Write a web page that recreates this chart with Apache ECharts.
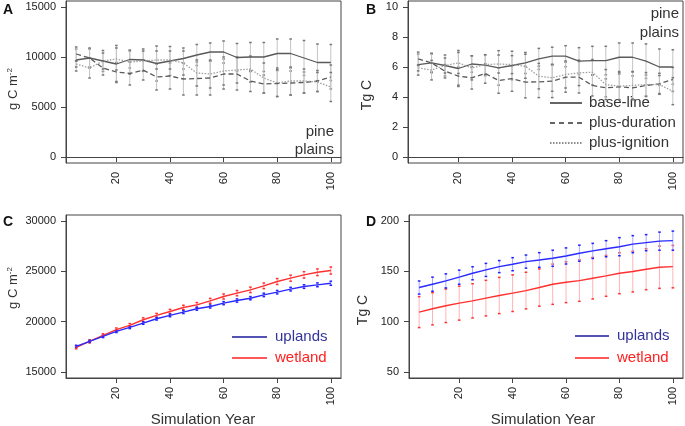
<!DOCTYPE html>
<html>
<head>
<meta charset="utf-8">
<script src="https://cdn.jsdelivr.net/npm/echarts@6/dist/echarts.min.js"></script>
<style>
  body { margin: 0; background: #fff; }
  #chart { width: 685px; height: 426px; }
</style>
</head>
<body>
<div id="chart"></div>
<script>
// simulation years (x for every panel)
const years = [5, 10, 15, 20, 25, 30, 35, 40, 45, 50, 55, 60, 65, 70, 75, 80, 85, 90, 95, 100];

// A: pine plains, g C m-2
const aBase = [9700, 9900, 9600, 9300, 9750, 9700, 9350, 9600, 9850, 10200, 10500, 10500, 9950, 10000, 10000, 10350, 10350, 9900, 9450, 9450];
const aBaseErr = [1100, 900, 1050, 1850, 850, 1100, 1750, 1450, 1050, 1050, 900, 1100, 1400, 1450, 1450, 1450, 1450, 1750, 1850, 1800];
const aDur = [10300, 9900, 8900, 8500, 8350, 8700, 8000, 8100, 7800, 7850, 7900, 8300, 8300, 7600, 7300, 7350, 7400, 7450, 7600, 8000];
const aDurErr = [700, 1000, 700, 950, 1150, 1000, 1300, 1300, 1600, 1650, 1700, 1500, 1600, 1050, 900, 1300, 1200, 1050, 1050, 1200];
const aIgn = [9300, 8900, 9600, 9800, 9500, 9600, 9700, 9700, 9400, 8400, 8300, 8600, 8700, 8800, 7900, 7400, 7600, 7600, 7500, 7000];
const aIgnErr = [300, 1000, 800, 1100, 1200, 1000, 900, 900, 1200, 1300, 1400, 1400, 1300, 1300, 1500, 1350, 1400, 1200, 950, 1450];

// B: pine plains, Tg C
const bBase = [6.16, 6.27, 6.1, 5.9, 6.2, 6.12, 5.94, 6.1, 6.27, 6.54, 6.72, 6.72, 6.39, 6.43, 6.43, 6.65, 6.65, 6.39, 6.0, 6.0];
const bBaseErr = [0.7, 0.6, 0.7, 1.2, 0.55, 0.7, 1.15, 0.95, 0.7, 0.7, 0.6, 0.7, 0.9, 0.95, 0.95, 0.95, 0.95, 1.15, 1.2, 1.15];
const bDur = [6.54, 6.27, 5.72, 5.39, 5.28, 5.57, 5.1, 5.23, 4.99, 5.01, 5.06, 5.32, 5.32, 4.77, 4.61, 4.68, 4.61, 4.77, 4.88, 5.17];
const bDurErr = [0.45, 0.65, 0.45, 0.6, 0.75, 0.65, 0.85, 0.85, 1.05, 1.05, 1.1, 1.0, 1.05, 0.7, 0.6, 0.85, 0.8, 0.7, 0.7, 0.8];
const bIgn = [5.94, 5.79, 6.1, 6.27, 5.94, 6.16, 6.2, 6.16, 6.05, 5.39, 5.28, 5.5, 5.61, 5.65, 4.83, 4.72, 4.77, 4.83, 4.83, 4.39];
const bIgnErr = [0.2, 0.65, 0.5, 0.7, 0.8, 0.65, 0.6, 0.6, 0.8, 0.85, 0.9, 0.9, 0.85, 0.85, 1.0, 0.9, 0.9, 0.8, 0.6, 0.9];

// C: uplands vs wetland, g C m-2
const cUp = [17550, 18040, 18530, 19030, 19430, 19860, 20290, 20620, 20950, 21280, 21510, 21840, 22100, 22330, 22660, 22930, 23230, 23490, 23660, 23820];
const cUpErr = [100, 100, 110, 110, 120, 120, 130, 130, 140, 140, 150, 150, 160, 160, 170, 170, 180, 180, 190, 200];
const cWet = [17450, 18040, 18630, 19200, 19630, 20190, 20620, 21010, 21410, 21670, 22070, 22500, 22830, 23160, 23560, 23990, 24320, 24650, 24910, 25080];
const cWetErr = [150, 150, 160, 170, 180, 190, 200, 210, 220, 230, 240, 250, 260, 270, 280, 290, 300, 320, 330, 350];

// D: uplands vs wetland, Tg C
const dUp = [133.9, 137.2, 140.5, 144.2, 148.1, 151.4, 154.7, 157.1, 159.7, 161.3, 163, 165.3, 168, 170.3, 172.5, 174.5, 177, 178.5, 180, 180.5];
const dUpErr = [6.5, 7, 7, 7, 6.5, 6.5, 6, 6.5, 6.5, 7.3, 8, 8, 8, 7.5, 8, 9, 8.5, 8, 9, 9.5];
const dWet = [109.5, 112.8, 115.8, 118.4, 120.7, 123.4, 126, 128.3, 130.9, 133.9, 137.2, 139.2, 140.8, 143.2, 145.5, 148.1, 149.8, 152.1, 154.1, 154.7];
const dWetErr = [15.4, 16, 16.7, 16.9, 17, 17.7, 18, 18.2, 18.2, 18.5, 20, 20.3, 20.6, 20.6, 20.3, 20.3, 20.2, 20.3, 21, 21.1];

// tick labels
const xTicks = [20, 40, 60, 80, 100];
const aTicks = [0, 5000, 10000, 15000];
const bTicks = [0, 2, 4, 6, 8, 10];
const cTicks = [15000, 20000, 25000, 30000];
const dTicks = [50, 100, 150, 200];

const font = 'Liberation Sans, Arial, sans-serif';
const axisColor = '#444';

function pairs(vals) {
  return years.map((y, i) => [y, vals[i]]);
}
function errData(vals, err) {
  return years.map((y, i) => [y, vals[i] - err[i], vals[i] + err[i]]);
}

function errSeries(idx, vals, err, barColor, capColor) {
  return {
    type: 'custom',
    xAxisIndex: idx,
    yAxisIndex: idx,
    silent: true,
    z: 1,
    encode: {x: 0, y: [1, 2]},
    data: errData(vals, err),
    renderItem: function (params, api) {
      const lo = api.coord([api.value(0), api.value(1)]);
      const hi = api.coord([api.value(0), api.value(2)]);
      return {
        type: 'group',
        children: [
          {type: 'line', shape: {x1: lo[0], y1: lo[1], x2: hi[0], y2: hi[1]}, style: {stroke: barColor, lineWidth: 1}},
          {type: 'line', shape: {x1: lo[0] - 1.3, y1: lo[1], x2: lo[0] + 1.3, y2: lo[1]}, style: {stroke: capColor, lineWidth: 1.5}},
          {type: 'line', shape: {x1: hi[0] - 1.3, y1: hi[1], x2: hi[0] + 1.3, y2: hi[1]}, style: {stroke: capColor, lineWidth: 1.5}}
        ]
      };
    }
  };
}

function lineSeries(idx, vals, color, type, width) {
  return {
    type: 'line',
    xAxisIndex: idx,
    yAxisIndex: idx,
    data: pairs(vals),
    symbol: 'none',
    silent: true,
    z: 3,
    lineStyle: {color: color, width: width || 1.3, type: type || 'solid'}
  };
}

function plain(v) {
  return String(v);
}

function xAxis(idx) {
  return {
    type: 'value',
    gridIndex: idx,
    min: 1.2,
    max: 103.8,
    axisLine: {show: true, lineStyle: {color: axisColor}},
    axisTick: {show: true, length: 5, customValues: xTicks, lineStyle: {color: axisColor}},
    axisLabel: {customValues: xTicks, formatter: plain, rotate: 90, margin: 9, fontSize: 11, color: '#222', fontFamily: font},
    splitLine: {show: false}
  };
}

function yAxis(idx, min, max, ticks) {
  return {
    type: 'value',
    gridIndex: idx,
    min: min,
    max: max,
    axisLine: {show: true, lineStyle: {color: axisColor}},
    axisTick: {show: true, length: 5, customValues: ticks, lineStyle: {color: axisColor}},
    axisLabel: {customValues: ticks, formatter: plain, margin: 10, fontSize: 11, color: '#222', fontFamily: font},
    splitLine: {show: false}
  };
}

function txt(x, y, text, opts) {
  return {
    type: 'text',
    x: x,
    y: y,
    rotation: (opts && opts.rotation) || 0,
    style: Object.assign({
      text: text,
      fontFamily: font,
      fontSize: 15,
      fill: '#333',
      align: 'left',
      verticalAlign: 'middle'
    }, opts && opts.style)
  };
}

function legLine(x1, x2, y, color, dash) {
  return {
    type: 'line',
    shape: {x1: x1, y1: y, x2: x2, y2: y},
    style: {stroke: color, lineWidth: 1.5, lineDash: dash || null}
  };
}

const supRich = {sup: {fontSize: 8, verticalAlign: 'top', fontFamily: font, fill: '#333', padding: [0, 0, 6, 0]}};

const chart = echarts.init(document.getElementById('chart'));
const option = {
  backgroundColor: '#fff',
  animation: false,
  grid: [
    {left: 66, top: 1, width: 275, height: 162, show: true, borderColor: axisColor, borderWidth: 1},
    {left: 408, top: 1, width: 275, height: 162, show: true, borderColor: axisColor, borderWidth: 1},
    {left: 66, top: 215, width: 275, height: 163, show: true, borderColor: axisColor, borderWidth: 1},
    {left: 409, top: 215, width: 274, height: 163, show: true, borderColor: axisColor, borderWidth: 1}
  ],
  xAxis: [xAxis(0), xAxis(1), xAxis(2), xAxis(3)],
  yAxis: [
    yAxis(0, -600, 15600, aTicks),
    yAxis(1, -0.4, 10.4, bTicks),
    yAxis(2, 14400, 30600, cTicks),
    yAxis(3, 44, 206, dTicks)
  ],
  series: [
    errSeries(0, aBase, aBaseErr, '#c4c4c4', '#777'),
    errSeries(0, aDur, aDurErr, '#c4c4c4', '#777'),
    errSeries(0, aIgn, aIgnErr, '#c4c4c4', '#777'),
    lineSeries(0, aBase, '#5a5a5a'),
    lineSeries(0, aDur, '#5a5a5a', [5, 3]),
    lineSeries(0, aIgn, '#a0a0a0', [1.5, 1.5]),

    errSeries(1, bBase, bBaseErr, '#c4c4c4', '#777'),
    errSeries(1, bDur, bDurErr, '#c4c4c4', '#777'),
    errSeries(1, bIgn, bIgnErr, '#c4c4c4', '#777'),
    lineSeries(1, bBase, '#5a5a5a'),
    lineSeries(1, bDur, '#5a5a5a', [5, 3]),
    lineSeries(1, bIgn, '#a0a0a0', [1.5, 1.5]),

    errSeries(2, cWet, cWetErr, '#ff9a9a', '#ff3030'),
    errSeries(2, cUp, cUpErr, '#9a9aff', '#2020ff'),
    lineSeries(2, cWet, '#ff3030', 'solid', 1.4),
    lineSeries(2, cUp, '#2a2aff', 'solid', 1.4),

    errSeries(3, dWet, dWetErr, '#ffb4b4', '#ff3030'),
    errSeries(3, dUp, dUpErr, '#a8a8ff', '#2020ff'),
    lineSeries(3, dWet, '#ff3030', 'solid', 1.4),
    lineSeries(3, dUp, '#2a2aff', 'solid', 1.4)
  ],
  graphic: [
    // panel letters
    txt(3, 10, 'A', {style: {fontWeight: 'bold', fontSize: 14, fill: '#111'}}),
    txt(366, 10, 'B', {style: {fontWeight: 'bold', fontSize: 14, fill: '#111'}}),
    txt(3, 222, 'C', {style: {fontWeight: 'bold', fontSize: 14, fill: '#111'}}),
    txt(366, 222, 'D', {style: {fontWeight: 'bold', fontSize: 14, fill: '#111'}}),

    // y axis titles
    txt(13, 89, 'g C m{sup|-2}', {rotation: Math.PI / 2, style: {align: 'center', fontSize: 13, rich: supRich}}),
    txt(367, 95, 'Tg C', {rotation: Math.PI / 2, style: {align: 'center', fontSize: 14}}),
    txt(13, 288, 'g C m{sup|-2}', {rotation: Math.PI / 2, style: {align: 'center', fontSize: 13, rich: supRich}}),
    txt(363, 310, 'Tg C', {rotation: Math.PI / 2, style: {align: 'center', fontSize: 14}}),

    // x axis titles
    txt(203, 420, 'Simulation Year', {style: {align: 'center', fontSize: 15}}),
    txt(543, 420, 'Simulation Year', {style: {align: 'center', fontSize: 15}}),

    // site labels
    txt(334, 132, 'pine', {style: {align: 'right'}}),
    txt(334, 150, 'plains', {style: {align: 'right'}}),
    txt(679, 14, 'pine', {style: {align: 'right'}}),
    txt(679, 33, 'plains', {style: {align: 'right'}}),

    // legend B
    legLine(550, 582, 103, '#333'),
    txt(589, 103, 'base-line'),
    legLine(550, 582, 123, '#333', [5, 4]),
    txt(589, 123, 'plus-duration'),
    legLine(550, 582, 143, '#666', [1.5, 1.5]),
    txt(589, 143, 'plus-ignition'),

    // legend C
    legLine(232, 267, 337, '#1a1a9a'),
    txt(275, 337, 'uplands', {style: {fill: '#333399'}}),
    legLine(232, 267, 358, '#ff2020'),
    txt(275, 358, 'wetland', {style: {fill: '#ff2020'}}),

    // legend D
    legLine(575, 609, 336, '#1a1a9a'),
    txt(617, 336, 'uplands', {style: {fill: '#333399'}}),
    legLine(575, 609, 358, '#ff2020'),
    txt(617, 358, 'wetland', {style: {fill: '#ff2020'}})
  ]
};
chart.setOption(option);
</script>
</body>
</html>
